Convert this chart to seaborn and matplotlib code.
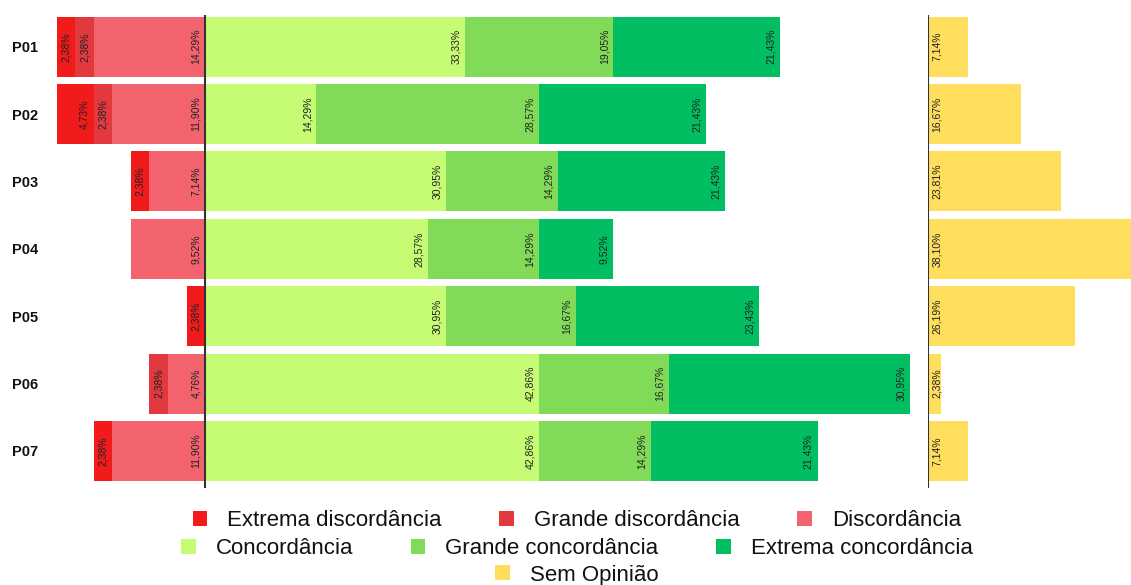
import numpy as np
import matplotlib.pyplot as plt
import seaborn as sns
from matplotlib.patches import Patch

# dados (percentagens por pergunta)
perguntas = ['P01', 'P02', 'P03', 'P04', 'P05', 'P06', 'P07']
extrema_disc = [2.38, 4.73, 2.38, 0, 2.38, 0, 2.38]
grande_disc = [2.38, 2.38, 0, 0, 0, 2.38, 0]
discordancia = [14.29, 11.90, 7.14, 9.52, 0, 4.76, 11.90]
concordancia = [33.33, 14.29, 30.95, 28.57, 30.95, 42.86, 42.86]
grande_conc = [19.05, 28.57, 14.29, 14.29, 16.67, 16.67, 14.29]
extrema_conc = [21.43, 21.43, 21.43, 9.52, 23.43, 30.95, 21.43]
sem_opiniao = [7.14, 16.67, 23.81, 38.10, 26.19, 2.38, 7.14]

nomes = ['Extrema discordância', 'Grande discordância', 'Discordância',
         'Concordância', 'Grande concordância', 'Extrema concordância',
         'Sem Opinião']
cores = ['#F11B1C', '#E1393E', '#F2636E', '#C6FB74', '#82DB58', '#00BE61', '#FFDD5D']

sns.set_theme(style='white')
plt.rcParams['font.family'] = ['Liberation Sans', 'DejaVu Sans']
plt.rcParams['text.color'] = '#111111'
plt.rcParams['ytick.color'] = '#111111'


def fmt(v):
    return f'{v:.2f}'.replace('.', ',') + '%'


fig = plt.figure(figsize=(11.31, 5.85), dpi=100)
ax = fig.add_axes([0.0435, 0.1658, 0.765, 0.8085])
ax2 = fig.add_axes([0.8205, 0.1658, 0.1795, 0.8085])

y = np.arange(len(perguntas))
h = 0.89

# lado esquerdo (discordância), do centro para fora
esquerda = [discordancia, grande_disc, extrema_disc]
cores_esq = [cores[2], cores[1], cores[0]]
acum = np.zeros(len(perguntas))
for vals, c in zip(esquerda, cores_esq):
    vals = np.array(vals)
    ax.barh(y, vals, left=-(acum + vals), height=h, color=c, linewidth=0)
    for i, v in enumerate(vals):
        if v > 0:
            ax.annotate(fmt(v), (-acum[i], y[i]), xytext=(-3, 0), textcoords='offset points',
                        rotation=90, ha='right', va='center', fontsize=7.5, color='#222222')
    acum = acum + vals

# lado direito (concordância)
direita = [concordancia, grande_conc, extrema_conc]
acum = np.zeros(len(perguntas))
for vals, c in zip(direita, cores[3:6]):
    vals = np.array(vals)
    ax.barh(y, vals, left=acum, height=h, color=c, linewidth=0)
    for i, v in enumerate(vals):
        if v > 0:
            ax.annotate(fmt(v), (acum[i] + v, y[i]), xytext=(-3, 0), textcoords='offset points',
                        rotation=90, ha='right', va='center', fontsize=7.5, color='#222222')
    acum = acum + vals

ax.axvline(0, color='#333333', lw=1.5)
ax.set_xlim(-20, 91)
ax.set_ylim(6.55, -0.47)
ax.set_yticks(y)
ax.set_yticklabels(perguntas, fontweight='bold', fontsize=10.5)
ax.set_xticks([])
ax.tick_params(axis='y', length=0, pad=8)
for s in ax.spines.values():
    s.set_visible(False)

# sem opinião
sns.barplot(x=sem_opiniao, y=perguntas, orient='h', color=cores[6], saturation=1,
            width=h, linewidth=0, ax=ax2)
for i, v in enumerate(sem_opiniao):
    ax2.annotate(fmt(v), (0, i), xytext=(3, 0), textcoords='offset points',
                 rotation=90, ha='left', va='center', fontsize=7.5, color='#222222')
ax2.axvline(0, color='#333333', lw=1.5)
ax2.set_xlim(0, 36.25)
ax2.set_ylim(6.55, -0.47)
ax2.set_xticks([])
ax2.set_yticks([])
ax2.set_xlabel('')
ax2.set_ylabel('')
for s in ax2.spines.values():
    s.set_visible(False)

# legenda em três linhas
handles = [Patch(facecolor=c, edgecolor='none', label=n) for c, n in zip(cores, nomes)]
linhas = [(handles[:3], 521), (handles[3:6], 549), (handles[6:], 575)]
for hs, py in linhas:
    fig.legend(handles=hs, loc='center', bbox_to_anchor=(0.51, 1 - py / 585), ncol=3,
               frameon=False, fontsize=16, handlelength=0.65, handleheight=0.65,
               handletextpad=0.9, columnspacing=2.6, borderpad=0, borderaxespad=0,
               labelcolor='#111111')

fig.savefig('out.png', dpi=100)
